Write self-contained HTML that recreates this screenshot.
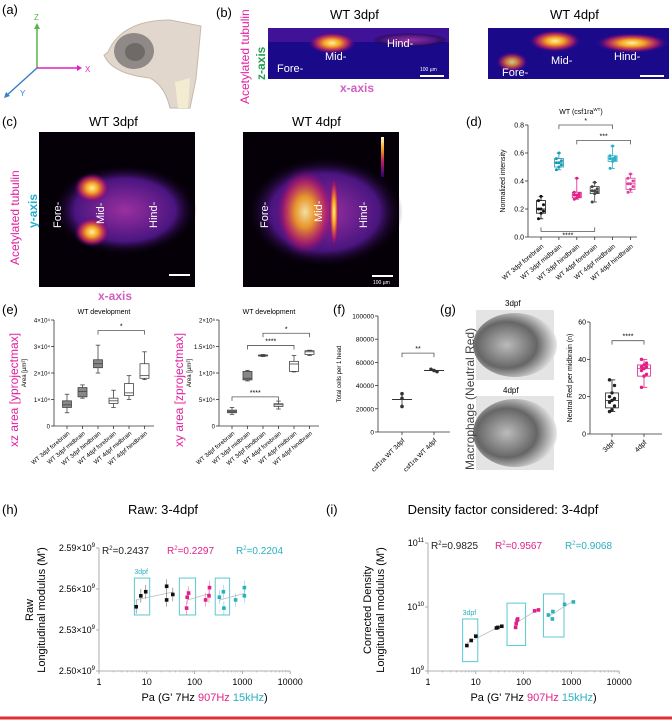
<!DOCTYPE html>
<html><head><meta charset="utf-8"><style>
html,body{margin:0;padding:0;background:#fff;}
svg{display:block;font-family:"Liberation Sans",sans-serif;}
</style></head><body>
<svg id="fig" width="672" height="720" viewBox="0 0 672 720">
<defs>
<radialGradient id="hot" cx="50%" cy="50%" r="50%"><stop offset="0" stop-color="#fff4a0"/><stop offset="0.35" stop-color="#f5a020"/><stop offset="0.7" stop-color="#c02060" stop-opacity="0.8"/><stop offset="1" stop-color="#400080" stop-opacity="0"/></radialGradient>
<radialGradient id="purp" cx="50%" cy="50%" r="50%"><stop offset="0" stop-color="#9a30a0"/><stop offset="0.7" stop-color="#4a1580"/><stop offset="1" stop-color="#0a0010" stop-opacity="0"/></radialGradient>
<radialGradient id="gray" cx="40%" cy="50%" r="60%"><stop offset="0" stop-color="#bbb"/><stop offset="0.6" stop-color="#666"/><stop offset="1" stop-color="#e8e8e8"/></radialGradient>
<linearGradient id="cbar" x1="0" y1="0" x2="0" y2="1"><stop offset="0" stop-color="#fffbd0"/><stop offset="0.3" stop-color="#f5a020"/><stop offset="0.6" stop-color="#c02060"/><stop offset="1" stop-color="#300070"/></linearGradient>
</defs>

<!-- panel a -->
<g>
<text x="2" y="14" font-size="13">(a)</text>
<line x1="37" y1="68" x2="37" y2="27" stroke="#5ab34a" stroke-width="1.5"/><polygon points="34,29 40,29 37,23" fill="#5ab34a"/>
<text x="34" y="20" font-size="8" fill="#5ab34a">Z</text>
<line x1="37" y1="68" x2="78" y2="68" stroke="#e020c0" stroke-width="1.5"/><polygon points="77,65 77,71 82,68" fill="#e020c0"/>
<text x="85" y="72" font-size="8" fill="#e020c0">X</text>
<line x1="37" y1="68" x2="6" y2="96" stroke="#3a80c8" stroke-width="1.5"/><polygon points="4,98 6,92 10,96" fill="#3a80c8"/>
<text x="20" y="96" font-size="8" fill="#3a80c8">Y</text>
<path d="M108,52 Q122,20 170,20 L201,26 L196,79 L190,108 L170,108 Q165,86 150,78 Q112,74 104,55 Z" fill="#e2d7cc" stroke="#c8b9aa"/>
<ellipse cx="134" cy="51" rx="20" ry="18" fill="#8f8a88"/><ellipse cx="135" cy="52" rx="10" ry="9" fill="#6e6a68"/>
<path d="M175,82 L190,78 L188,108 L178,108 Z" fill="#f4ecd0"/>
</g>

<!-- panel b -->
<g>
<text x="216" y="17" font-size="13">(b)</text>
<text transform="translate(249,104) rotate(-90)" font-size="12" fill="#e020a0">Acetylated tubulin</text>
<text transform="translate(265,80) rotate(-90)" font-size="12" font-weight="bold" fill="#20a050">z-axis</text>
<text x="340" y="92" font-size="12" font-weight="bold" fill="#d060c0">x-axis</text>
<text x="330" y="19" font-size="13">WT 3dpf</text>
<text x="550" y="19" font-size="13">WT 4dpf</text>
<rect x="268" y="28" width="181" height="51" fill="#1a0a8a"/>
<rect x="268" y="28" width="181" height="14" fill="#5a18a0" opacity="0.6"/>
<ellipse cx="332" cy="43" rx="24" ry="11" fill="url(#hot)"/>
<ellipse cx="410" cy="40" rx="38" ry="7" fill="url(#purp)"/>
<text x="325" y="60" font-size="11" fill="#fff">Mid-</text>
<text x="387" y="47" font-size="11" fill="#fff">Hind-</text>
<text x="277" y="72" font-size="11" fill="#fff">Fore-</text>
<line x1="420" y1="76" x2="444" y2="76" stroke="#fff" stroke-width="2"/><text x="420" y="71" font-size="5" fill="#fff">100 µm</text>
<rect x="488" y="28" width="181" height="51" fill="#1a0a8a"/>
<ellipse cx="555" cy="41" rx="26" ry="11" fill="url(#hot)"/>
<ellipse cx="632" cy="43" rx="36" ry="10" fill="url(#hot)"/>
<ellipse cx="512" cy="62" rx="16" ry="10" fill="url(#hot)" opacity="0.8"/>
<text x="551" y="64" font-size="11" fill="#fff">Mid-</text>
<text x="614" y="60" font-size="11" fill="#fff">Hind-</text>
<text x="502" y="76" font-size="11" fill="#fff">Fore-</text>
<line x1="640" y1="76" x2="664" y2="76" stroke="#fff" stroke-width="2"/>
</g>

<!-- panel c -->
<g>
<text x="2" y="126" font-size="13">(c)</text>
<text x="89" y="126" font-size="13">WT 3dpf</text>
<text x="292" y="126" font-size="13">WT 4dpf</text>
<text transform="translate(19,265) rotate(-90)" font-size="12" fill="#e020a0">Acetylated tubulin</text>
<text transform="translate(37,228) rotate(-90)" font-size="12" font-weight="bold" fill="#20b0d0">y-axis</text>
<text x="98" y="300" font-size="12" font-weight="bold" fill="#d060c0">x-axis</text>
<rect x="39" y="132" width="156" height="155" fill="#050008"/>
<ellipse cx="125" cy="210" rx="72" ry="45" fill="url(#purp)"/>
<ellipse cx="92" cy="188" rx="18" ry="15" fill="url(#hot)"/>
<ellipse cx="92" cy="232" rx="18" ry="15" fill="url(#hot)"/>
<text transform="translate(61,228) rotate(-90)" font-size="11" fill="#fff">Fore-</text>
<text transform="translate(104,224) rotate(-90)" font-size="11" fill="#fff">Mid-</text>
<text transform="translate(157,228) rotate(-90)" font-size="11" fill="#fff">Hind-</text>
<line x1="169" y1="275" x2="190" y2="275" stroke="#fff" stroke-width="2"/>
<rect x="243" y="132" width="156" height="155" fill="#050008"/>
<ellipse cx="325" cy="212" rx="78" ry="55" fill="url(#purp)"/>
<ellipse cx="305" cy="212" rx="30" ry="45" fill="url(#hot)" opacity="0.9"/>
<ellipse cx="334" cy="212" rx="5" ry="38" fill="url(#hot)"/>
<text transform="translate(268,228) rotate(-90)" font-size="11" fill="#fff">Fore-</text>
<text transform="translate(322,222) rotate(-90)" font-size="11" fill="#fff">Mid-</text>
<text transform="translate(367,228) rotate(-90)" font-size="11" fill="#fff">Hind-</text>
<rect x="381" y="137" width="3" height="40" fill="url(#cbar)"/>
<line x1="372" y1="276" x2="393" y2="276" stroke="#fff" stroke-width="2"/><text x="373" y="284" font-size="5" fill="#fff">100 µm</text>
</g>

<!-- panel g images -->
<g>
<rect x="476" y="310" width="78" height="70" fill="#e4e4e4"/>
<ellipse cx="515" cy="345" rx="42" ry="32" fill="url(#gray)"/>
<rect x="476" y="396" width="78" height="74" fill="#e4e4e4"/>
<ellipse cx="515" cy="433" rx="42" ry="34" fill="url(#gray)"/>
<text transform="translate(474,470) rotate(-90)" font-size="12" fill="#444">Macrophage (Neutral Red)</text>
<text x="505" y="306" font-size="8">3dpf</text>
<text x="503" y="393" font-size="8">4dpf</text>
</g>

<g id="charts"></g>
<line x1="0" y1="718" x2="672" y2="718" stroke="#e03030" stroke-width="3"/>
</svg>

<script>
// ===== data =====
// panel d: [q1, median, q3, min, max]
const dCats = ["WT 3dpf forebrain","WT 3dpf midbrain","WT 3dpf hindbrain","WT 4dpf forebrain","WT 4dpf midbrain","WT 4dpf hindbrain"];
const dBoxes = [[0.17,0.20,0.26,0.13,0.29],[0.50,0.53,0.56,0.48,0.60],[0.28,0.30,0.32,0.27,0.42],[0.31,0.33,0.36,0.25,0.39],[0.54,0.56,0.58,0.49,0.65],[0.34,0.38,0.42,0.32,0.45]];
const dTicks = [0,0.2,0.4,0.6,0.8];
const dColors = ["#111","#1a9ab0","#e0208a","#444","#2ab0c8","#e040a0"];
// panel e (left, x1e4)
const eCats = ["WT 3dpf forebrain","WT 3dpf midbrain","WT 3dpf hindbrain","WT 4dpf forebrain","WT 4dpf midbrain","WT 4dpf hindbrain"];
const eLeft = [[0.7,0.8,0.95,0.5,1.2],[1.1,1.3,1.45,1.05,1.55],[2.2,2.35,2.5,2.0,3.05],[0.85,0.95,1.05,0.7,1.35],[1.15,1.25,1.6,1.0,1.9],[1.8,1.9,2.35,1.75,2.8]];
const eLeftTicks = ["0","1×10⁴","2×10⁴","3×10⁴","4×10⁴"];
// panel e (right, x1e5)
const eRight = [[0.25,0.27,0.30,0.22,0.35],[0.87,0.90,1.03,0.85,1.05],[1.32,1.33,1.34,1.31,1.35],[0.37,0.40,0.42,0.32,0.47],[1.03,1.17,1.22,1.02,1.33],[1.35,1.40,1.42,1.33,1.43]];
const eRightTicks = ["0","5×10⁴","1×10⁵","1.5×10⁵","2×10⁵"];
// panel f
const fCats = ["csf1ra WT 3dpf","csf1ra WT 4dpf"];
const f3 = [33000,29000,22000];
const f4 = [54000,53000,52000];
const fTicks = [0,20000,40000,60000,80000,100000];
// panel g
const gCats = ["3dpf","4dpf"];
const gBoxes = [[14,18,22,12,29],[31,35,37,25,40]];
const gPts3 = [12,13,15,17,18,19,20,22,26,29];
const gPts4 = [25,31,32,34,35,36,36,37,38,40];
const gTicks = [0,20,40,60];
// panel h (raw)
const hBlackX = [6,7.5,9.5,26,26,35];
const hBlackY = [2.547,2.555,2.558,2.562,2.552,2.556];
const hPinkX = [68,70,75,170,200,205];
const hPinkY = [2.546,2.554,2.557,2.552,2.555,2.561];
const hCyanX = [330,400,410,720,1100,1100];
const hCyanY = [2.554,2.558,2.546,2.552,2.555,2.561];
const hYTicks = [2.50,2.53,2.56,2.59];
const xTicks = [1,10,100,1000,10000];
// panel i (density corrected)
const iBlackX = [6.5,8,10,27,29,35];
const iBlackY = [2.5e9,3.0e9,3.5e9,4.7e9,4.8e9,5.0e9];
const iPinkX = [68,70,73,75,170,205];
const iPinkY = [4.8e9,5.5e9,6.2e9,6.5e9,8.7e9,9.0e9];
const iCyanX = [330,400,410,720,1100];
const iCyanY = [7.5e9,6.5e9,8.5e9,1.1e10,1.2e10];
const iYTicks = [1e9,1e10,1e11];

const NS="http://www.w3.org/2000/svg";
const root=document.getElementById('charts');
function mk(tag,attrs,parent){const e=document.createElementNS(NS,tag);for(const k in attrs)e.setAttribute(k,attrs[k]);(parent||root).appendChild(e);return e;}
function txt(x,y,s,size,attrs,parent){const t=mk('text',Object.assign({x:x,y:y,'font-size':size},attrs||{}),parent);t.textContent=s;return t;}

function boxPlot(xc,w,b,ys,stroke,fill,g){
  mk('line',{x1:xc,x2:xc,y1:ys(b[3]),y2:ys(b[0]),stroke:stroke,'stroke-width':0.8},g);
  mk('line',{x1:xc,x2:xc,y1:ys(b[2]),y2:ys(b[4]),stroke:stroke,'stroke-width':0.8},g);
  mk('line',{x1:xc-w/4,x2:xc+w/4,y1:ys(b[3]),y2:ys(b[3]),stroke:stroke,'stroke-width':0.8},g);
  mk('line',{x1:xc-w/4,x2:xc+w/4,y1:ys(b[4]),y2:ys(b[4]),stroke:stroke,'stroke-width':0.8},g);
  const r=mk('rect',{x:xc-w/2,y:ys(b[2]),width:w,height:ys(b[0])-ys(b[2]),fill:fill,stroke:stroke,'stroke-width':0.8},g);
  
  
  mk('line',{x1:xc-w/2,x2:xc+w/2,y1:ys(b[1]),y2:ys(b[1]),stroke:stroke,'stroke-width':0.8},g);
}
function bracket(x1,x2,y,label,g,down){
  const d=down?-4:4;
  mk('path',{d:`M${x1},${y+d} L${x1},${y} L${x2},${y} L${x2},${y+d}`,fill:'none',stroke:'#555','stroke-width':0.8},g);
  txt((x1+x2)/2,y-2+(down?8:0),label,7,{'text-anchor':'middle'},g);
}

// ===== panel d =====
(function(){
  const g=mk('g',{});
  
  
  const ax=528,y0=237,y1=125;
  const ys=v=>y0+(y1-y0)*v/0.8;
  const xs=i=>541+i*17.9;
  txt(466,126,'(d)',13,{},g);
  const tt=mk('text',{x:581,y:114,'font-size':7,'text-anchor':'middle'},g);
  tt.innerHTML='WT (csf1ra<tspan font-size="4.5" dy="-3">WT</tspan><tspan dy="3">)</tspan>';
  mk('line',{x1:ax,x2:ax,y1:y1,y2:y0,stroke:'#333','stroke-width':0.8},g);
  mk('line',{x1:ax,x2:637,y1:y0,y2:y0,stroke:'#333','stroke-width':0.8},g);
  dTicks.forEach(t=>{mk('line',{x1:ax-3,x2:ax,y1:ys(t),y2:ys(t),stroke:'#333','stroke-width':0.8},g);txt(ax-4,ys(t)+2.5,t.toFixed(1),7,{'text-anchor':'end'},g);});
  const yl=txt(0,0,'Normalized intensity',7,{'text-anchor':'middle',transform:`translate(505,${(y0+y1)/2}) rotate(-90)`},g);
  
  
  dBoxes.forEach((b,i)=>{
    boxPlot(xs(i),9,b,ys,dColors[i],'#fff',g);
    const pts=[b[3],b[0],(b[0]+b[1])/2,b[1],b[1],(b[1]+b[2])/2,b[2],b[4]];
    pts.forEach((p,k)=>{const c=mk('circle',{cx:xs(i)+((k%3)-1)*2.5,cy:ys(p),r:1.5,fill:dColors[i]},g);});
    mk('line',{x1:xs(i),x2:xs(i),y1:y0,y2:y0+3,stroke:'#333','stroke-width':0.8},g);
    const lt=txt(0,0,dCats[i],6.5,{'text-anchor':'end',transform:`translate(${xs(i)+3},${y0+10}) rotate(-40)`},g);
    
    
  });
  bracket(xs(1),xs(4),ys(0.8),'*',g);
  bracket(xs(2),xs(5),ys(0.69),'***',g);
  bracket(xs(0),xs(3),ys(0.04),'****',g,true);
})();

// ===== panel e =====
function panelE(ax,title,boxes,ticks,maxV,ylabelSide,ylabel,brackets,labx){
  const g=mk('g',{});
  
  
  const y0=426,y1=320;
  const ys=v=>y0+(y1-y0)*v/maxV;
  const xs=i=>ax+13+i*15.5;
  txt(ax+50,314,title,7,{'text-anchor':'middle'},g);
  mk('line',{x1:ax,x2:ax,y1:y1,y2:y0,stroke:'#333','stroke-width':0.8},g);
  mk('line',{x1:ax,x2:ax+100,y1:y0,y2:y0,stroke:'#333','stroke-width':0.8},g);
  ticks.forEach((t,k)=>{const v=maxV*k/(ticks.length-1);mk('line',{x1:ax-3,x2:ax,y1:ys(v),y2:ys(v),stroke:'#333','stroke-width':0.8},g);txt(ax-4,ys(v)+2.5,t,6,{'text-anchor':'end'},g);});
  txt(0,0,'Area [µm²]',6,{'text-anchor':'middle',transform:`translate(${ax-28},373) rotate(-90)`},g);
  txt(0,0,ylabel,12,{'text-anchor':'middle',fill:'#e020a0',transform:`translate(${labx},390) rotate(-90)`},g);
  boxes.forEach((b,i)=>{
    boxPlot(xs(i),9,b,ys,'#444',i<3?'#888':'#fff',g);
    mk('line',{x1:xs(i),x2:xs(i),y1:y0,y2:y0+3,stroke:'#333','stroke-width':0.8},g);
    const lt=txt(0,0,eCats[i],6,{'text-anchor':'end',transform:`translate(${xs(i)+3},${y0+8}) rotate(-40)`},g);
    
    
  });
  brackets.forEach(b=>bracket(xs(b[0]),xs(b[1]),ys(b[2]),b[3],g,b[4]));
}
txt(2,314,'(e)',13,{});
panelE(54,'WT development',eLeft,eLeftTicks,4,0,'xz area [yprojectmax]',[[2,5,3.6,'*']],18);
panelE(219,'WT development',eRight,eRightTicks,2,0,'xy area [zprojectmax]',[[1,4,1.52,'****'],[2,5,1.75,'*'],[0,3,0.55,'****']],183);

// ===== panel f =====
(function(){
  const g=mk('g',{});
  
  
  const ax=378,y0=432,y1=316;
  const ys=v=>y0+(y1-y0)*v/100000;
  const xs=i=>402+i*32;
  txt(333,314,'(f)',13,{},g);
  mk('line',{x1:ax,x2:ax,y1:y1,y2:y0,stroke:'#333','stroke-width':0.8},g);
  mk('line',{x1:ax,x2:450,y1:y0,y2:y0,stroke:'#333','stroke-width':0.8},g);
  fTicks.forEach(t=>{mk('line',{x1:ax-3,x2:ax,y1:ys(t),y2:ys(t),stroke:'#333','stroke-width':0.8},g);txt(ax-4,ys(t)+2.5,String(t),6.5,{'text-anchor':'end'},g);});
  txt(0,0,'Total cells per 1 head',6,{'text-anchor':'middle',transform:`translate(341,374) rotate(-90)`},g);
  [f3,f4].forEach((arr,i)=>{
    const m=arr.reduce((a,b)=>a+b,0)/arr.length;
    mk('line',{x1:xs(i)-10,x2:xs(i)+10,y1:ys(m),y2:ys(m),stroke:'#333','stroke-width':1},g);
    mk('line',{x1:xs(i),x2:xs(i),y1:ys(Math.min(...arr)),y2:ys(Math.max(...arr)),stroke:'#333','stroke-width':0.8},g);
    arr.forEach((v,k)=>{const c=mk('circle',{cx:xs(i)+(i?(k-1)*3:0),cy:ys(v),r:1.8,fill:'#333'},g);});
    mk('line',{x1:xs(i),x2:xs(i),y1:y0,y2:y0+3,stroke:'#333','stroke-width':0.8},g);
    txt(0,0,fCats[i],6.5,{'text-anchor':'end',transform:`translate(${xs(i)+3},${y0+9}) rotate(-45)`},g);
  });
  bracket(xs(0),xs(1),ys(68000),'**',g);
})();

// ===== panel g =====
(function(){
  const g=mk('g',{});
  
  
  const ax=590,y0=434,y1=322;
  const ys=v=>y0+(y1-y0)*v/60;
  const xs=i=>612+i*32;
  txt(440,314,'(g)',13,{},g);
  mk('line',{x1:ax,x2:ax,y1:y1,y2:y0,stroke:'#333','stroke-width':0.8},g);
  mk('line',{x1:ax,x2:662,y1:y0,y2:y0,stroke:'#333','stroke-width':0.8},g);
  gTicks.forEach(t=>{mk('line',{x1:ax-3,x2:ax,y1:ys(t),y2:ys(t),stroke:'#333','stroke-width':0.8},g);txt(ax-4,ys(t)+2.5,String(t),7,{'text-anchor':'end'},g);});
  txt(0,0,'Neutral Red per midbrain (n)',7,{'text-anchor':'middle',transform:`translate(572,378) rotate(-90)`},g);
  const cols=['#222','#e0208a'];
  gBoxes.forEach((b,i)=>{
    boxPlot(xs(i),13,b,ys,cols[i],'#fff',g);
    [gPts3,gPts4][i].forEach((v,k)=>{const c=mk('circle',{cx:xs(i)+((k%3)-1)*2.5,cy:ys(v),r:1.7,fill:cols[i]},g);});
    mk('line',{x1:xs(i),x2:xs(i),y1:y0,y2:y0+3,stroke:'#333','stroke-width':0.8},g);
    txt(0,0,gCats[i],7,{'text-anchor':'end',transform:`translate(${xs(i)+3},${y0+9}) rotate(-45)`},g);
  });
  bracket(xs(0),xs(1),ys(50),'****',g);
})();

// ===== panels h & i =====
function scatterPanel(cfg){
  const g=mk('g',{});
  
  
  const xs=v=>cfg.ax+cfg.dec*Math.log10(v);
  const ys=cfg.ys;
  txt(cfg.labX,514,cfg.lab,13,{},g);
  txt(cfg.titleX,514,cfg.title,13,{'text-anchor':'middle'},g);
  mk('line',{x1:cfg.ax,x2:cfg.ax,y1:cfg.yTop,y2:cfg.y0,stroke:'#999','stroke-width':0.8},g);
  mk('line',{x1:cfg.ax,x2:xs(10000),y1:cfg.y0,y2:cfg.y0,stroke:'#999','stroke-width':0.8},g);
  xTicks.forEach(t=>{mk('line',{x1:xs(t),x2:xs(t),y1:cfg.y0,y2:cfg.y0+3,stroke:'#999','stroke-width':0.8},g);
    const l=txt(xs(t),cfg.y0+14,String(t),9,{'text-anchor':'middle'},g);
    if(t<10000){for(let k=2;k<10;k++){mk('line',{x1:xs(t*k),x2:xs(t*k),y1:cfg.y0,y2:cfg.y0+1.5,stroke:'#999','stroke-width':0.5},g);}}
  });
  cfg.yTicks.forEach((t,k)=>{mk('line',{x1:cfg.ax-3,x2:cfg.ax,y1:ys(t),y2:ys(t),stroke:'#999','stroke-width':0.8},g);
    const l=mk('text',{x:cfg.ax-4,y:ys(t)+3,'font-size':9,'text-anchor':'end'},g);
    l.innerHTML=cfg.yLab[k]+'<tspan font-size="6" dy="-4">'+cfg.ySup[k]+'</tspan>';
    
    
  });
  txt(0,0,cfg.yTitle1,11,{'text-anchor':'middle',transform:`translate(${cfg.ax+cfg.t1},610) rotate(-90)`},g);
  txt(0,0,'Longitudinal modulus (M\')',11,{'text-anchor':'middle',transform:`translate(${cfg.ax+cfg.t2},610) rotate(-90)`},g);
  const xt=mk('text',{x:(cfg.ax+xs(10000))/2+10,y:cfg.y0+30,'font-size':11,'text-anchor':'middle'},g);
  
  
  xt.innerHTML='Pa (G\' 7Hz <tspan fill="#e0208a">907Hz</tspan> <tspan fill="#2ab0c0">15kHz</tspan>)';
  cfg.boxes.forEach(b=>{mk('rect',{x:xs(b[0]),y:ys(b[3]),width:xs(b[1])-xs(b[0]),height:ys(b[2])-ys(b[3]),fill:'none',stroke:'#5cc8d0','stroke-width':1},g);});
  txt(xs(cfg.boxes[0][0]),ys(cfg.boxes[0][3])-4,'3dpf',7,{fill:'#2ab0c0'},g);
  cfg.r2.forEach((r,k)=>{const t=mk('text',{x:cfg.r2x[k],y:cfg.yTop+6,'font-size':10,fill:r[1]},g);t.innerHTML='R<tspan font-size="6" dy="-4">2</tspan><tspan dy="4">='+r[0]+'</tspan>';});
  cfg.series.forEach(s=>{
    const n=s.x.length;
    const lx=s.x.map(v=>Math.log10(v));
    const mx=lx.reduce((a,b)=>a+b,0)/n;
    const ty=s.y.map(v=>cfg.lin(v));
    const my=ty.reduce((a,b)=>a+b,0)/n;
    let sxy=0,sxx=0;for(let k=0;k<n;k++){sxy+=(lx[k]-mx)*(ty[k]-my);sxx+=(lx[k]-mx)**2;}
    const b=sxy/sxx,a=my-b*mx;
    const xa=Math.min(...lx),xb=Math.max(...lx);
    mk('line',{x1:cfg.ax+cfg.dec*xa,x2:cfg.ax+cfg.dec*xb,y1:cfg.ysLin(a+b*xa),y2:cfg.ysLin(a+b*xb),stroke:'#bbb','stroke-width':0.8},g);
    s.x.forEach((v,k)=>{
      if(cfg.err){mk('line',{x1:xs(v),x2:xs(v),y1:ys(s.y[k]-cfg.err),y2:ys(s.y[k]+cfg.err),stroke:s.c,'stroke-width':0.6,opacity:0.6},g);}
      const p=mk('rect',{x:xs(v)-1.8,y:ys(s.y[k])-1.8,width:3.6,height:3.6,fill:s.c},g);
      
      
    });
  });
}
const hy0=671,hTop=548;
const hys=v=>hy0+(hTop-hy0)*(v-2.50)/0.09;
scatterPanel({name:'panel-h-chart',lab:'(h)',labX:2,title:'Raw: 3-4dpf',titleX:163,ax:99,dec:47.8,y0:hy0,yTop:548,ys:hys,lin:v=>v,ysLin:hys,
  yTicks:hYTicks,yLab:['2.50×10','2.53×10','2.56×10','2.59×10'],ySup:['9','9','9','9'],
  yTitle1:'Raw',t1:-66,t2:-54,err:0.005,
  boxes:[[5.5,11.5,2.541,2.568],[48,105,2.541,2.568],[270,540,2.541,2.568]],
  r2:[['0.2437','#222'],['0.2297','#e0208a'],['0.2204','#2ab0c0']],r2x:[102,167,236],
  series:[{x:hBlackX,y:hBlackY,c:'#111'},{x:hPinkX,y:hPinkY,c:'#e0208a'},{x:hCyanX,y:hCyanY,c:'#2ab0c0'}]});
const iy0=671,iTop=543;
const iysLin=l=>iy0+(iTop-iy0)*(l-9)/2;
const iys=v=>iysLin(Math.log10(v));
scatterPanel({name:'panel-i-chart',lab:'(i)',labX:326,title:'Density factor considered: 3-4dpf',titleX:503,ax:428,dec:47.8,y0:iy0,yTop:543,ys:iys,lin:v=>Math.log10(v),ysLin:iysLin,
  yTicks:iYTicks,yLab:['10','10','10'],ySup:['9','10','11'],
  yTitle1:'Corrected Density',t1:-57,t2:-44,err:0,
  boxes:[[5.3,11,1.4e9,6.5e9],[45,110,2.5e9,1.15e10],[260,700,3.4e9,1.6e10]],
  r2:[['0.9825','#222'],['0.9567','#e0208a'],['0.9068','#2ab0c0']],r2x:[431,495,565],
  series:[{x:iBlackX,y:iBlackY,c:'#111'},{x:iPinkX,y:iPinkY,c:'#e0208a'},{x:iCyanX,y:iCyanY,c:'#2ab0c0'}]});
</script>
</body></html>
